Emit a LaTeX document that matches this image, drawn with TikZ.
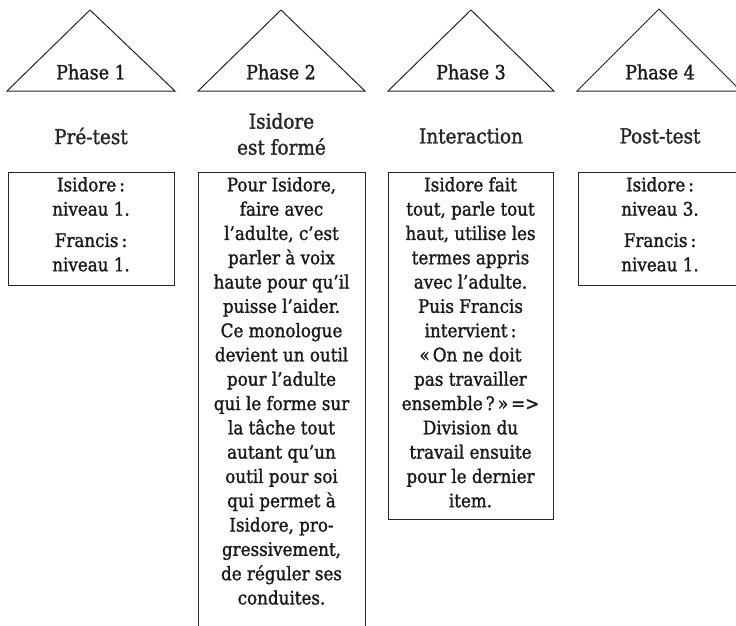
\documentclass[tikz,border=0pt]{standalone}
\usepackage{fontspec}
\setmainfont{DejaVu Serif Condensed}[FakeBold=1.4]
\newfontfamily\heavy{DejaVu Serif Condensed}[FakeBold=1.4]
\begin{document}
\begin{tikzpicture}[x=1pt,y=-1pt,
  tri/.style={draw=black!85, line width=1pt, line join=miter},
  boxst/.style={draw=black!85, line width=1.2pt, inner sep=0pt, anchor=north west},
  txt/.style={align=center, inner sep=0pt, anchor=north, text=black!90,
    font=\heavy\fontsize{18.6}{24.3}\selectfont},
  lbl/.style={align=center, inner sep=0pt, text=black!85,
    font=\heavy\fontsize{20.5}{26}\selectfont},
  ph/.style={inner sep=0pt, text=black!90, font=\heavy\fontsize{19.5}{20}\selectfont}]
\useasboundingbox (0,0) rectangle (736,626);
% triangles
\coordinate (a1) at (7,91);   \coordinate (c1) at (90,10);  \coordinate (d1) at (175,91);
\coordinate (a2) at (198,91); \coordinate (c2) at (281,10); \coordinate (d2) at (365,91);
\coordinate (a3) at (388,91); \coordinate (c3) at (471,10); \coordinate (d3) at (554,91);
\coordinate (a4) at (577,91); \coordinate (c4) at (659,9);  \coordinate (d4) at (741,91);
\draw[tri] (a1) -- (c1) -- (d1) -- cycle;
\draw[tri] (a2) -- (c2) -- (d2) -- cycle;
\draw[tri] (a3) -- (c3) -- (d3) -- cycle;
\draw[tri] (a4) -- (c4) -- (d4) -- cycle;
\node[ph] (p1) at (91,72) {Phase 1};
\node[ph] (p2) at (281,72) {Phase 2};
\node[ph] (p3) at (471,72) {Phase 3};
\node[ph] (p4) at (660,72) {Phase 4};
% labels
\node[lbl] (l1) at (91,136) {Pré-test};
\node[lbl] (l2) at (281.5,134) {Isidore\\est formé};
\node[lbl] (l3) at (471,136) {Interaction};
\node[lbl] (l4) at (660,136) {Post-test};
% boxes
\node[boxst, minimum width=166pt, minimum height=113pt] (b1) at (8,172) {};
\node[boxst, minimum width=167pt, minimum height=475pt] (b2) at (198,172) {};
\node[boxst, minimum width=165pt, minimum height=347pt] (b3) at (388,172) {};
\node[boxst, minimum width=167pt, minimum height=113pt] (b4) at (578,172) {};
% box texts
\node[txt] (t1) at (91,177) {Isidore\,:\\niveau 1.\\[7pt]Francis\,:\\niveau 1.};
\node[txt] (t2) at (281.5,177) {Pour Isidore,\\faire avec\\l’adulte, c’est\\parler à voix\\haute pour qu’il\\puisse l’aider.\\Ce monologue\\devient un outil\\pour l’adulte\\qui le forme sur\\la tâche tout\\autant qu’un\\outil pour soi\\qui permet à\\Isidore, pro-\\gressivement,\\de réguler ses\\conduites.};
\node[txt] (t3) at (470.5,177) {Isidore fait\\tout, parle tout\\haut, utilise les\\termes appris\\avec l’adulte.\\Puis Francis\\intervient\,:\\«\,On ne doit\\pas travailler\\ensemble\,?\,»\,=>\\Division du\\travail ensuite\\pour le dernier\\item.};
\node[txt] (t4) at (660,177) {Isidore\,:\\niveau 3.\\[7pt]Francis\,:\\niveau 1.};
\end{tikzpicture}
\end{document}
